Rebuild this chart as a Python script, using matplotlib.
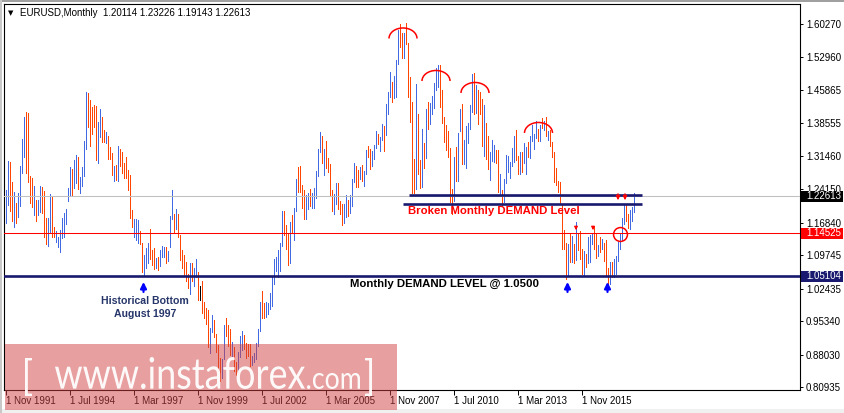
import matplotlib
matplotlib.use("Agg")
import matplotlib.pyplot as plt
from matplotlib.patches import Arc, Rectangle, PathPatch
from matplotlib.textpath import TextPath
from matplotlib.font_manager import FontProperties
from matplotlib.transforms import Affine2D, blended_transform_factory

plt.rcParams["font.family"] = ["Liberation Sans", "DejaVu Sans"]

W, H = 844, 413

header = "EURUSD,Monthly  1.20114 1.23226 1.19143 1.22613"

# monthly bars, Nov 1991 .. Jan 2018
highs = [
    1.240, 1.303,                                                                  # 1991
    1.301, 1.257, 1.236, 1.212, 1.234, 1.292, 1.351, 1.400, 1.410, 1.408, 1.271, 1.266,  # 1992
    1.249, 1.218, 1.218, 1.249, 1.247, 1.238, 1.179, 1.179, 1.231, 1.227, 1.159, 1.150,  # 1993
    1.137, 1.152, 1.179, 1.190, 1.198, 1.244, 1.290, 1.286, 1.305, 1.316, 1.312, 1.268,  # 1994
    1.290, 1.347, 1.454, 1.452, 1.437, 1.421, 1.426, 1.424, 1.388, 1.417, 1.399, 1.371,  # 1995
    1.367, 1.358, 1.334, 1.321, 1.292, 1.295, 1.336, 1.329, 1.323, 1.299, 1.312, 1.284,  # 1996
    1.273, 1.196, 1.177, 1.177, 1.174, 1.150, 1.124, 1.098, 1.113, 1.124, 1.155, 1.109,  # 1997
    1.113, 1.092, 1.094, 1.109, 1.118, 1.116, 1.116, 1.107, 1.183, 1.240, 1.188, 1.198,  # 1998
    1.188, 1.142, 1.109, 1.098, 1.083, 1.056, 1.080, 1.080, 1.070, 1.090, 1.060, 1.030,  # 1999
    1.041, 0.996, 0.982, 0.978, 0.939, 0.966, 0.956, 0.926, 0.901, 0.873, 0.870, 0.945,  # 2000
    0.960, 0.944, 0.936, 0.907, 0.896, 0.864, 0.886, 0.920, 0.932, 0.924, 0.906, 0.904,  # 2001
    0.903, 0.878, 0.884, 0.906, 0.937, 0.996, 1.019, 0.992, 0.996, 0.993, 1.014, 1.050,  # 2002
    1.090, 1.094, 1.108, 1.124, 1.193, 1.193, 1.164, 1.145, 1.169, 1.185, 1.200, 1.265,  # 2003
    1.290, 1.293, 1.250, 1.239, 1.228, 1.233, 1.243, 1.233, 1.244, 1.281, 1.330, 1.367,  # 2004
    1.357, 1.329, 1.348, 1.309, 1.296, 1.240, 1.232, 1.255, 1.256, 1.215, 1.209, 1.209,  # 2005
    1.230, 1.218, 1.230, 1.264, 1.298, 1.293, 1.283, 1.290, 1.294, 1.281, 1.327, 1.337,  # 2006
    1.330, 1.325, 1.338, 1.368, 1.362, 1.355, 1.385, 1.380, 1.428, 1.453, 1.497, 1.477,  # 2007
    1.490, 1.524, 1.590, 1.602, 1.582, 1.584, 1.604, 1.562, 1.487, 1.433, 1.308, 1.472,  # 2008
    1.406, 1.305, 1.374, 1.343, 1.416, 1.433, 1.430, 1.445, 1.474, 1.506, 1.514, 1.514,  # 2009
    1.458, 1.399, 1.382, 1.369, 1.331, 1.242, 1.313, 1.333, 1.365, 1.416, 1.428, 1.350,  # 2010
    1.380, 1.386, 1.425, 1.494, 1.495, 1.470, 1.458, 1.455, 1.439, 1.425, 1.387, 1.359,  # 2011
    1.323, 1.349, 1.339, 1.328, 1.328, 1.275, 1.240, 1.264, 1.317, 1.314, 1.301, 1.331,  # 2012
    1.359, 1.371, 1.314, 1.324, 1.324, 1.342, 1.334, 1.345, 1.357, 1.383, 1.362, 1.390,  # 2013
    1.374, 1.383, 1.397, 1.391, 1.399, 1.368, 1.370, 1.344, 1.322, 1.289, 1.260, 1.257,  # 2014
    1.210, 1.153, 1.124, 1.121, 1.147, 1.139, 1.121, 1.171, 1.146, 1.150, 1.110, 1.106,  # 2015
    1.100, 1.138, 1.141, 1.146, 1.162, 1.143, 1.119, 1.137, 1.133, 1.123, 1.130, 1.069,  # 2016
    1.083, 1.083, 1.090, 1.095, 1.127, 1.145, 1.178, 1.207, 1.209, 1.188, 1.196, 1.202,  # 2017
    1.23226,                                                                       # 2018
]
lows = [
    1.168, 1.207,
    1.194, 1.172, 1.159, 1.168, 1.181, 1.205, 1.277, 1.312, 1.277, 1.258, 1.212, 1.203,
    1.185, 1.172, 1.185, 1.192, 1.190, 1.137, 1.122, 1.118, 1.146, 1.137, 1.137, 1.126,
    1.115, 1.104, 1.135, 1.137, 1.166, 1.216, 1.227, 1.227, 1.244, 1.255, 1.242, 1.233,
    1.249, 1.271, 1.329, 1.378, 1.336, 1.362, 1.378, 1.305, 1.299, 1.356, 1.345, 1.345,
    1.343, 1.308, 1.308, 1.273, 1.260, 1.262, 1.260, 1.292, 1.277, 1.266, 1.266, 1.240,
    1.179, 1.159, 1.137, 1.131, 1.124, 1.122, 1.060, 1.052, 1.070, 1.080, 1.090, 1.075,
    1.068, 1.070, 1.066, 1.073, 1.093, 1.094, 1.080, 1.084, 1.116, 1.177, 1.146, 1.155,
    1.137, 1.087, 1.070, 1.055, 1.040, 1.025, 1.013, 1.040, 1.030, 1.050, 1.000, 1.000,
    0.970, 0.961, 0.948, 0.896, 0.884, 0.929, 0.918, 0.885, 0.844, 0.823, 0.830, 0.870,
    0.920, 0.900, 0.880, 0.876, 0.844, 0.835, 0.841, 0.874, 0.890, 0.892, 0.873, 0.876,
    0.856, 0.858, 0.864, 0.870, 0.900, 0.932, 0.960, 0.961, 0.962, 0.969, 0.979, 0.986,
    1.034, 1.062, 1.050, 1.063, 1.117, 1.141, 1.110, 1.076, 1.080, 1.145, 1.130, 1.194,
    1.235, 1.236, 1.200, 1.176, 1.176, 1.198, 1.204, 1.200, 1.200, 1.222, 1.271, 1.322,
    1.298, 1.273, 1.288, 1.280, 1.230, 1.195, 1.187, 1.210, 1.199, 1.187, 1.164, 1.168,
    1.180, 1.182, 1.190, 1.206, 1.257, 1.246, 1.246, 1.265, 1.260, 1.248, 1.275, 1.311,
    1.286, 1.293, 1.307, 1.332, 1.341, 1.326, 1.350, 1.326, 1.360, 1.406, 1.444, 1.432,
    1.440, 1.444, 1.515, 1.553, 1.529, 1.528, 1.558, 1.443, 1.388, 1.233, 1.233, 1.242,
    1.274, 1.245, 1.246, 1.289, 1.309, 1.374, 1.384, 1.405, 1.420, 1.458, 1.464, 1.422,
    1.386, 1.344, 1.327, 1.312, 1.214, 1.188, 1.215, 1.259, 1.259, 1.369, 1.297, 1.296,
    1.287, 1.343, 1.373, 1.411, 1.406, 1.408, 1.384, 1.405, 1.336, 1.315, 1.308, 1.286,
    1.262, 1.303, 1.300, 1.299, 1.236, 1.229, 1.204, 1.213, 1.256, 1.280, 1.266, 1.292,
    1.300, 1.305, 1.275, 1.274, 1.279, 1.298, 1.275, 1.313, 1.310, 1.348, 1.329, 1.354,
    1.348, 1.347, 1.375, 1.371, 1.359, 1.350, 1.337, 1.313, 1.257, 1.250, 1.236, 1.210,
    1.110, 1.110, 1.046, 1.052, 1.082, 1.082, 1.081, 1.086, 1.109, 1.089, 1.057, 1.052,
    1.071, 1.081, 1.082, 1.122, 1.110, 1.091, 1.095, 1.105, 1.112, 1.085, 1.055, 1.035,
    1.034, 1.049, 1.050, 1.057, 1.084, 1.112, 1.131, 1.166, 1.172, 1.157, 1.155, 1.172,
    1.19143,
]
# u = month closed up, d = closed down, n = unchanged (quarters split by spaces)
moves = " ".join([
    "uu",
    "ddu duu uud ddd", "udu udd duu ddu", "uuu uuu udu udu", "uuu ddd ddu udd",
    "udd dud udd ddd", "ddu uud duu udd", "dud uuu duu udu", "ddd ddd udu udn",
    "ddd duu ddd duu", "ddd udd uuu ddd", "duu uuu ddu uuu", "uuu uud ddu duu",
    "ddd duu duu uuu", "dud ddd uud ddu", "udu uud dud uud", "duu udu udu uud",
    "uuu ddu ddd ddu", "ddu dud uuu uud", "ddd ddd udu udu", "uuu udu ddd udd",
    "uuu ddu duu uuu", "udd udu udu uuu", "dud udu ddd ddd", "ddd udu dud ddu",
    "duu udd udu ddd", "udu uuu uud duu",
    "u",
]).replace(" ", "")

date_ticks = ["1 Nov 1991", "1 Jul 1994", "1 Mar 1997", "1 Nov 1999", "1 Jul 2002",
              "1 Mar 2005", "1 Nov 2007", "1 Jul 2010", "1 Mar 2013", "1 Nov 2015"]
price_ticks = [1.60270, 1.52960, 1.45865, 1.38555, 1.31460, 1.24150,
               1.16840, 1.09745, 1.02435, 0.95340, 0.88030, 0.80935]

current_price = 1.22613
red_level = 1.14525
demand_level = 1.05104
broken_levels = [1.2300, 1.2100]

month_no = {"Jan": 1, "Feb": 2, "Mar": 3, "Apr": 4, "May": 5, "Jun": 6,
            "Jul": 7, "Aug": 8, "Sep": 9, "Oct": 10, "Nov": 11, "Dec": 12}


def month_index(label):
    _, mon, year = label.split()
    return (int(year) - 1991) * 12 + month_no[mon] - 11


fig = plt.figure(figsize=(W / 100, H / 100), dpi=100)
fig.patch.set_facecolor("white")
ax = fig.add_axes([4 / W, 23 / H, 796 / W, 386 / H])

bar_colors = {"u": "#4169e1", "d": "#ff4500", "n": "black"}
x = list(range(len(highs)))
ax.vlines(x, lows, highs, colors=[bar_colors[c] for c in moves], linewidth=0.72,
          antialiased=False, zorder=2)
ax.set_xlim(-0.75, 397.25)
ax.set_ylim(0.80277, 1.64641)

# levels
navy = "#191970"
ax.axhline(current_price, color="#c0c0c0", lw=0.75, zorder=3)
ax.axhline(red_level, color="red", lw=0.75, zorder=3)
ax.axhline(demand_level, color=navy, lw=1.9, zorder=3)
ax.hlines(broken_levels[0], 201.75, 318.25, color=navy, lw=1.9, zorder=3)
ax.hlines(broken_levels[1], 198.75, 318.25, color=navy, lw=1.9, zorder=3)

# tops marked with arcs
for cx, cy in [(198.75, 1.5710), (215.25, 1.4781), (234.75, 1.4519), (266.5, 1.3645)]:
    ax.add_patch(Arc((cx, cy), 14, 0.046, theta1=0, theta2=180, color="red", lw=1.1, zorder=4))

# arrows
for m in [69, 281, 301]:
    ax.annotate("", xy=(m, 1.045), xytext=(m, 1.011),
                arrowprops=dict(arrowstyle="-|>", color="blue", lw=1.6, mutation_scale=9))
for m in [306.25, 309.75]:
    ax.annotate("", xy=(m, 1.2115), xytext=(m, 1.2378),
                arrowprops=dict(arrowstyle="-|>", color="red", lw=0.9, mutation_scale=6))
for m in [285.25, 293.75]:
    ax.annotate("", xy=(m, 1.1459), xytext=(m, 1.1656),
                arrowprops=dict(arrowstyle="-|>", color="red", lw=0.8, mutation_scale=5))
ax.plot([307.25], [1.1437], "o", ms=10, mfc="none", mec="red", mew=1.1, zorder=5)

ax.text(201.25, 1.1940, "Broken Monthly DEMAND Level", color="red", fontsize=8.2,
        fontweight="bold", va="center", ha="left", zorder=6)
ax.text(172.25, 1.0345, "Monthly DEMAND LEVEL @ 1.0500", color="black", fontsize=8.2,
        fontweight="bold", va="center", ha="left", zorder=6)
ax.text(69.75, 0.9973, "Historical Bottom", color="#26366a", fontsize=7.6,
        fontweight="bold", va="center", ha="center", zorder=6)
ax.text(69.75, 0.9689, "August 1997", color="#26366a", fontsize=7.6,
        fontweight="bold", va="center", ha="center", zorder=6)

# axes
ax.yaxis.tick_right()
ax.set_yticks(price_ticks)
ax.set_yticklabels([f"{p:.5f}" for p in price_ticks])
ax.tick_params(axis="y", length=2.2, width=0.7, pad=2.0, labelsize=7, colors="black")
ax.set_xticks([month_index(d) for d in date_ticks])
ax.set_xticklabels(date_ticks)
ax.tick_params(axis="x", length=3.5, width=0.7, pad=1.0, labelsize=7, colors="black")
for lab in ax.get_xticklabels():
    lab.set_ha("left")
for s in ax.spines.values():
    s.set_linewidth(0.8)
    s.set_color("black")

# price boxes on the right scale
bt = blended_transform_factory(fig.transFigure, ax.transData)
for price, bg in [(current_price, "black"), (red_level, "red"), (demand_level, navy)]:
    fig.add_artist(Rectangle((801 / W, price - 0.0121), 42 / W, 0.0242, transform=bt,
                             fc=bg, ec="none", zorder=5))
    fig.text(806 / W, price, f"{price:.5f}", transform=bt, color="white", fontsize=7,
             va="center", ha="left", zorder=6)

# header
fig.text(8 / W, 1 - 13 / H, "\u25bc", fontsize=5, va="center", family="DejaVu Sans")
fig.text(20 / W, 1 - 13.3 / H, header, fontsize=7, va="center")

# frame bits
fig.add_artist(Rectangle((0, 0), 1, 4 / H, transform=fig.transFigure, fc="#f0f0f0", ec="none", zorder=-1))
fig.add_artist(Rectangle((0, 1 - 1.5 / H), 1, 1.5 / H, transform=fig.transFigure, fc="#a0a0a0", ec="none", zorder=-1))
fig.add_artist(Rectangle((0, 0), 2 / W, 1, transform=fig.transFigure, fc="#c8c8c8", ec="none", zorder=-1))

# watermark
fig.add_artist(Rectangle((5 / W, 3 / H), 392 / W, 66 / H, transform=fig.transFigure,
                         fc="#d14141", ec="none", alpha=0.5, zorder=10))


def wm(s, x0, x1, y_top, y_bot):
    tp = TextPath((0, 0), s, size=50, prop=FontProperties(family="Lato", weight="normal"))
    bb = tp.get_extents()
    tr = (Affine2D().translate(-bb.x0, -bb.y0)
          .scale((x1 - x0) / bb.width, (y_bot - y_top) / bb.height)
          .translate(x0, H - y_bot))
    fig.add_artist(PathPatch(tp, transform=tr, fc="white", ec="none", alpha=0.95, zorder=11))


wm("[", 25, 32, 358, 396)
wm("www.instaforex", 55, 305, 357, 389)
wm(".com", 307, 360, 373, 389)
wm("]", 365, 372, 358, 396)

fig.savefig("out.png", dpi=100)
